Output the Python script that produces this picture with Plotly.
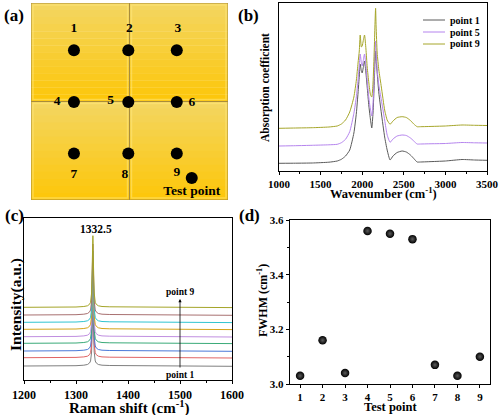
import plotly.graph_objects as go

# ---------------- data ----------------
# (a) test point layout (grid units 0..10, y measured downward)
pt_labels = ["1", "2", "3", "4", "5", "6", "7", "8", "9"]
pt_x = [2.18, 4.94, 7.40, 2.18, 4.94, 7.40, 2.18, 4.94, 7.40]
pt_y = [2.40, 2.40, 2.40, 5.03, 5.03, 5.03, 7.64, 7.64, 7.64]
lab_x = [2.18, 4.99, 7.45, 1.33, 4.04, 8.16, 2.18, 4.77, 7.40]
lab_y = [1.28, 1.28, 1.28, 5.03, 4.98, 5.08, 8.70, 8.70, 8.63]
legend_pt_x = [8.16]
legend_pt_y = [8.88]

# (b) FTIR absorption spectra (arbitrary units, stacked)
wn = [1000, 1200, 1400, 1600, 1700, 1750, 1800, 1850, 1900, 1930, 1950, 1965,
      1976, 1990, 2000, 2012, 2028, 2045, 2060, 2080, 2100, 2115, 2130, 2145,
      2153, 2161, 2167, 2180, 2200, 2230, 2270, 2300, 2335, 2370, 2420, 2480,
      2530, 2580, 2620, 2660, 2700, 2800, 3000, 3200, 3350, 3500]
abs_p1 = [7.7, 7.8, 8.0, 8.8, 10, 11.7, 15, 21, 38, 58, 78, 95,
          107, 100, 98, 103, 110, 98, 84, 65, 51, 43, 58, 88,
          108, 120, 112, 98, 78, 58, 34, 21, 11, 15, 18.5, 20,
          19, 16, 12.5, 9, 9, 9.3, 10, 11.5, 11, 10.7]
abs_p5 = [25, 25.3, 25.7, 26.2, 26.7, 28.3, 31.7, 39.3, 57.7, 74.3, 91, 106,
          117, 108, 105, 110, 117, 105, 91, 73, 61, 55, 68, 98,
          118, 130, 120, 101, 86, 71, 51, 36, 28.7, 32, 35, 36,
          35.5, 33, 30, 27, 27, 27.2, 27.5, 28.5, 28.2, 28]
abs_p9 = [42.7, 43, 43.3, 44, 45, 47, 51, 59, 74, 91, 108, 120,
          136, 124, 125, 130, 136, 122, 104, 88, 76, 74, 88, 121,
          145, 162.7, 145, 118, 101, 84, 61, 51, 46.7, 50, 53.5, 54.3,
          53.5, 50.5, 47, 44.3, 44.3, 44.5, 45, 46, 45.7, 45.5]
abs_names = ["point 1", "point 5", "point 9"]

# (c) Raman spectra, points 1..9 (stacked, arbitrary units)
raman_x = [1200, 1250, 1300, 1315, 1322, 1326, 1328, 1330, 1331.5, 1332.5, 1333.5,
           1335, 1337, 1339, 1343, 1350, 1365, 1400, 1450, 1500, 1550, 1600]
raman_p1 = [14.0, 14.0, 14.3, 14.8, 15.5, 17, 19, 28, 59, 86, 59, 28, 19, 17, 15.5, 14.8, 14.5, 14.3, 14.2, 14.0, 14.0, 13.7]
raman_p2 = [22.3, 22.3, 22.6, 23.1, 23.8, 25.3, 27.3, 36, 66, 93, 66, 36, 27.3, 25.3, 23.8, 23.1, 22.8, 22.6, 22.5, 22.3, 22.3, 22.0]
raman_p3 = [29.0, 29.0, 29.3, 29.8, 30.5, 32, 34, 43, 74, 101, 74, 43, 34, 32, 30.5, 29.8, 29.5, 29.3, 29.2, 29.0, 29.0, 28.7]
raman_p4 = [36.7, 36.7, 37.0, 37.5, 38.2, 39.7, 41.7, 50, 80, 107, 80, 50, 41.7, 39.7, 38.2, 37.5, 37.2, 37.0, 36.9, 36.7, 36.7, 36.4]
raman_p5 = [43.3, 43.3, 43.6, 44.1, 44.8, 46.3, 48.3, 57, 88, 115, 88, 57, 48.3, 46.3, 44.8, 44.1, 43.8, 43.6, 43.5, 43.3, 43.3, 43.0]
raman_p6 = [50.7, 50.7, 51.0, 51.5, 52.2, 53.7, 55.7, 64, 95, 122, 95, 64, 55.7, 53.7, 52.2, 51.5, 51.2, 51.0, 50.9, 50.7, 50.7, 50.4]
raman_p7 = [57.7, 57.7, 58.0, 58.5, 59.2, 60.7, 62.7, 71, 102, 129, 102, 71, 62.7, 60.7, 59.2, 58.5, 58.2, 58.0, 57.9, 57.7, 57.7, 57.4]
raman_p8 = [65.0, 65.0, 65.3, 65.8, 66.5, 68, 70, 79, 109, 136, 109, 79, 70, 68, 66.5, 65.8, 65.5, 65.3, 65.2, 65.0, 65.0, 64.7]
raman_p9 = [72.7, 72.7, 73.0, 73.5, 74.2, 75.7, 77.7, 87, 117, 144.3, 117, 87, 77.7, 75.7, 74.2, 73.5, 73.2, 73.0, 72.9, 72.7, 72.7, 72.4]
raman_series = [raman_p1, raman_p2, raman_p3, raman_p4, raman_p5, raman_p6, raman_p7, raman_p8, raman_p9]
raman_colors = ["#7f7f7f", "#e06464", "#4a78d8", "#3aaa78", "#c08ee0",
                "#d4a418", "#30c4d0", "#a87070", "#a4a428"]

# (d) FWHM per test point
test_point = [1, 2, 3, 4, 5, 6, 7, 8, 9]
fwhm = [3.03, 3.16, 3.04, 3.56, 3.55, 3.53, 3.07, 3.03, 3.10]

# ---------------- figure ----------------
FONT = "Liberation Serif"
W, H = 500, 415


def dom_x(a, b):
    return [a / W, b / W]


def dom_y(top, bottom):
    return [1 - bottom / H, 1 - top / H]


fig = go.Figure()

# (a)
fig.add_trace(go.Scatter(x=pt_x + legend_pt_x, y=pt_y + legend_pt_y, mode="markers",
                         marker=dict(size=12, color="black"), xaxis="x", yaxis="y",
                         showlegend=False, hoverinfo="skip"))
fig.add_trace(go.Scatter(x=lab_x + [8.16], y=lab_y + [9.56], mode="text",
                         text=pt_labels + ["Test point"],
                         textfont=dict(family=FONT, size=13.5, color="black", weight=700),
                         xaxis="x", yaxis="y", showlegend=False, hoverinfo="skip"))

# (b)
abs_colors = ["#5a5a5a", "#b584ee", "#a6a62a"]
for y, name, col in zip([abs_p1, abs_p5, abs_p9], abs_names, abs_colors):
    fig.add_trace(go.Scatter(x=wn, y=y, mode="lines", name=name,
                             line=dict(color=col, width=1, shape="spline", smoothing=0.5),
                             xaxis="x2", yaxis="y2", showlegend=False))

# (c)
for s, col in zip(raman_series, raman_colors):
    fig.add_trace(go.Scatter(x=raman_x, y=s, mode="lines", line=dict(color=col, width=1),
                             xaxis="x3", yaxis="y3", showlegend=False, hoverinfo="skip"))

# (d)
fig.add_trace(go.Scatter(x=test_point, y=fwhm, mode="markers",
                         marker=dict(size=8.5, color="black",
                                     gradient=dict(type="radial", color="#5c5c5c"),
                                     line=dict(width=0)),
                         xaxis="x4", yaxis="y4", showlegend=False))

shapes = []
# quadrant gradient strips in panel (a)
top_c = (244, 214, 96)
bot_c = (253, 199, 12)
n = 14
for qx in [(0, 5), (5, 10)]:
    for qy in [(0, 5), (5, 10)]:
        for i in range(n):
            t = i / (n - 1)
            c = tuple(int(top_c[k] + (bot_c[k] - top_c[k]) * t) for k in range(3))
            y0 = qy[0] + (qy[1] - qy[0]) * i / n
            y1 = qy[0] + (qy[1] - qy[0]) * (i + 1) / n + 0.02
            shapes.append(dict(type="rect", xref="x", yref="y", x0=qx[0], x1=qx[1], y0=y0, y1=y1,
                               fillcolor="rgb(%d,%d,%d)" % c, line=dict(width=0), layer="below"))
        shapes.append(dict(type="rect", xref="x", yref="y", x0=qx[0] + 0.1, x1=qx[1] - 0.1,
                           y0=qy[0] + 0.1, y1=qy[1] - 0.1, fillcolor="rgba(0,0,0,0)",
                           line=dict(width=1.5, color="rgba(255,234,130,0.5)"), layer="below"))
        shapes.append(dict(type="rect", xref="x", yref="y", x0=qx[0], x1=qx[1],
                           y0=qy[0], y1=qy[1], fillcolor="rgba(0,0,0,0)",
                           line=dict(width=1, color="#a88c3c"), layer="below"))

# manual legend for panel (b)
for i, col in enumerate(abs_colors):
    yy = 1 - (20 + 12 * i) / H
    shapes.append(dict(type="line", xref="paper", yref="paper", x0=423 / W, x1=445 / W,
                       y0=yy, y1=yy, line=dict(color=col, width=1)))

axis_common = dict(showgrid=False, zeroline=False, linecolor="black", linewidth=1.2,
                   mirror=True, ticks="outside", tickcolor="black",
                   tickfont=dict(family=FONT, size=11, color="black", weight=700))

layout = dict(
    width=W, height=H, margin=dict(l=0, r=0, t=0, b=0, autoexpand=False),
    paper_bgcolor="white", plot_bgcolor="rgba(0,0,0,0)",
    font=dict(family=FONT, color="black"),
    shapes=shapes,
    xaxis=dict(domain=dom_x(31, 228), range=[0, 10], visible=False, fixedrange=True),
    yaxis=dict(domain=dom_y(3, 200), range=[10, 0], visible=False, fixedrange=True),
    xaxis2=dict(axis_common, domain=dom_x(279, 487), range=[1000, 3500], anchor="y2",
                tickvals=[1000, 1500, 2000, 2500, 3000, 3500], ticklen=3,
                minor=dict(tickvals=[1250, 1750, 2250, 2750, 3250], ticklen=2, ticks="outside",
                           tickcolor="black")),
    yaxis2=dict(axis_common, domain=dom_y(3, 171), range=[0, 168], anchor="x2",
                showticklabels=False, ticks=""),
    xaxis3=dict(axis_common, domain=dom_x(24, 232), range=[1200, 1600], anchor="y3",
                tickvals=[1200, 1300, 1400, 1500, 1600], ticklen=3,
                tickfont=dict(family=FONT, size=12, color="black", weight=700),
                minor=dict(tickvals=[1250, 1350, 1450, 1550], ticklen=2, ticks="outside",
                           tickcolor="black")),
    yaxis3=dict(axis_common, domain=dom_y(218, 380), range=[0, 162], anchor="x3",
                showticklabels=False, ticks=""),
    xaxis4=dict(axis_common, domain=dom_x(290, 490), range=[0.55, 9.45], anchor="y4",
                tickvals=test_point, ticklen=3),
    yaxis4=dict(axis_common, domain=dom_y(220, 384), range=[3.0, 3.6], anchor="x4",
                tickvals=[3.0, 3.2, 3.4, 3.6], ticktext=["3.0", "3.2", "3.4", "3.6"], ticklen=3,
                minor=dict(tickvals=[3.1, 3.3, 3.5], ticklen=2, ticks="outside", tickcolor="black")),
    showlegend=False,
)

bold = dict(family=FONT, color="black", weight=700)
ann = []
# panel letters
for txt, x, y in [("(a)", 14, 15), ("(b)", 248, 15), ("(c)", 14, 215), ("(d)", 249, 215)]:
    ann.append(dict(text=txt, x=x / W, y=1 - y / H, font=dict(bold, size=17)))
# legend texts for (b)
for i, name in enumerate(abs_names):
    ann.append(dict(text=name, x=448 / W, y=1 - (20 + 12 * i) / H, xanchor="left",
                    font=dict(bold, size=10)))
# axis titles
ann += [
    dict(text="Absorption coefficient", x=265 / W, y=1 - 88 / H, textangle=-90,
         font=dict(bold, size=11.5)),
    dict(text="Wavenumber (cm<sup>-1</sup>)", x=383 / W, y=1 - 193 / H, font=dict(bold, size=12.5)),
    dict(text="Intensity(a.u.)", x=16 / W, y=1 - 305 / H, textangle=-90, font=dict(bold, size=15.5)),
    dict(text="Raman shift (cm<sup>-1</sup>)", x=129 / W, y=1 - 407 / H, font=dict(bold, size=15)),
    dict(text="FWHM (cm<sup>-1</sup>)", x=262 / W, y=1 - 301 / H, textangle=-90, font=dict(bold, size=12)),
    dict(text="Test point", x=391 / W, y=1 - 407 / H, font=dict(bold, size=12.5)),
]
for a in ann:
    a.setdefault("xref", "paper")
    a.setdefault("yref", "paper")
    a.setdefault("showarrow", False)
    a.setdefault("xanchor", "center")
    a.setdefault("yanchor", "middle")
# panel (c) labels
ann += [
    dict(text="1332.5", x=1339, y=151.5, xref="x3", yref="y3", showarrow=False,
         xanchor="center", yanchor="middle", font=dict(bold, size=11.5)),
    dict(text="", x=1500, y=81, ax=1500, ay=11, xref="x3", yref="y3", axref="x3", ayref="y3",
         showarrow=True, arrowhead=2, arrowsize=0.8, arrowwidth=0.8, arrowcolor="black"),
    dict(text="point 9", x=1500, y=88, xref="x3", yref="y3", showarrow=False,
         xanchor="center", yanchor="middle", font=dict(bold, size=9.5)),
    dict(text="point 1", x=1500, y=5, xref="x3", yref="y3", showarrow=False,
         xanchor="center", yanchor="middle", font=dict(bold, size=9.5)),
]
layout["annotations"] = ann
fig.update_layout(**layout)

fig.write_html("out.html", config={"displayModeBar": False, "staticPlot": True},
               post_script="document.body.style.margin='0';document.body.style.overflow='hidden';")
